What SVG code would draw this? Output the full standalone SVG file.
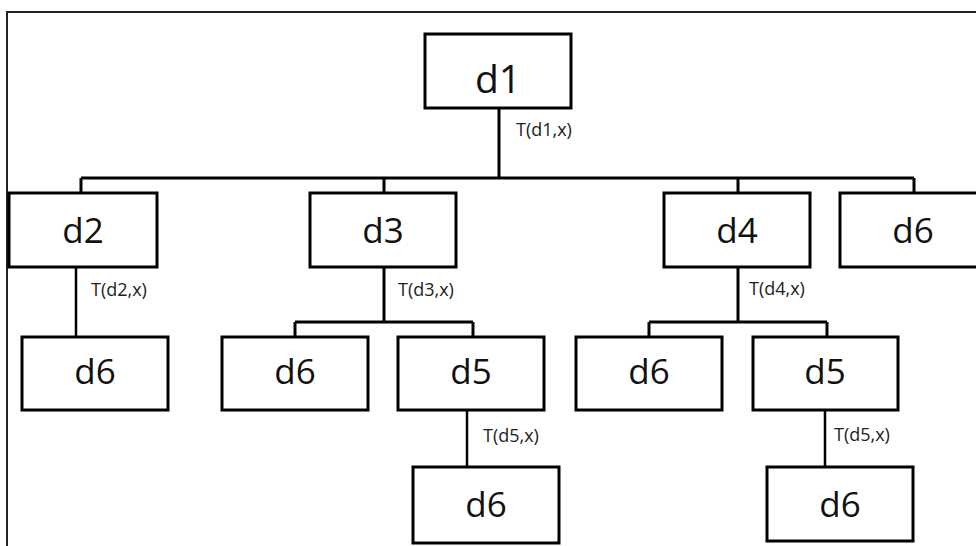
<svg xmlns="http://www.w3.org/2000/svg" width="976" height="546" viewBox="0 0 976 546">
<style>
.box{fill:#fff;stroke:#000;stroke-width:3}
.lbl{font-family:"Open Sans","Noto Sans",sans-serif;font-size:35px;fill:#111;text-anchor:middle}
.t{font-family:"Open Sans","Noto Sans",sans-serif;font-size:18px;fill:#222}
.c{fill:none;stroke:#000;stroke-width:3}
.c2{fill:none;stroke:#000;stroke-width:2.5}
</style>
<rect width="976" height="546" fill="#fff"/>
<path d="M7,546 V12 H976" fill="none" stroke="#222" stroke-width="2"/>
<g id="connectors">
<path class="c" d="M499,108 V178 M81,178 H914 M81,178 V193 M384,178 V193 M738,178 V193 M914,178 V193"/>
<path class="c2" d="M76,267 V337"/>
<path class="c" d="M384,267 V322 M295,322 H473 M295,322 V337 M473,322 V337"/>
<path class="c" d="M738,267 V322 M649,322 H827 M649,322 V337 M827,322 V337"/>
<path class="c2" d="M467,410 V467 M825,410 V467"/>
<text class="t" x="516" y="136">T(d1,x)</text>
<text class="t" x="91" y="296">T(d2,x)</text>
<text class="t" x="398" y="296">T(d3,x)</text>
<text class="t" x="749" y="295">T(d4,x)</text>
<text class="t" x="483" y="442">T(d5,x)</text>
<text class="t" x="834" y="441">T(d5,x)</text>
</g>
<g id="n_d1"><rect class="box" x="425" y="34" width="146" height="74"/><text class="lbl" x="498" y="93" style="font-size:39px">d1</text></g>
<g id="n_d2"><rect class="box" x="9" y="193" width="148" height="74"/><text class="lbl" x="83" y="243">d2</text></g>
<g id="n_d3"><rect class="box" x="310" y="193" width="146" height="74"/><text class="lbl" x="383" y="243">d3</text></g>
<g id="n_d4"><rect class="box" x="664" y="193" width="146" height="74"/><text class="lbl" x="737" y="243">d4</text></g>
<g id="n_d6_top"><rect class="box" x="840" y="193" width="146" height="74"/><text class="lbl" x="913" y="243">d6</text></g>
<g id="n_d6_a"><rect class="box" x="22" y="337" width="146" height="73"/><text class="lbl" x="95" y="384">d6</text></g>
<g id="n_d6_b"><rect class="box" x="222" y="337" width="146" height="73"/><text class="lbl" x="295" y="384">d6</text></g>
<g id="n_d5_a"><rect class="box" x="398" y="337" width="146" height="73"/><text class="lbl" x="471" y="384">d5</text></g>
<g id="n_d6_c"><rect class="box" x="576" y="337" width="146" height="73"/><text class="lbl" x="649" y="384">d6</text></g>
<g id="n_d5_b"><rect class="box" x="753" y="337" width="145" height="73"/><text class="lbl" x="825" y="384">d5</text></g>
<g id="n_d6_d"><rect class="box" x="413" y="467" width="146" height="76"/><text class="lbl" x="486" y="517">d6</text></g>
<g id="n_d6_e"><rect class="box" x="767" y="467" width="146" height="74"/><text class="lbl" x="840" y="517">d6</text></g>
</svg>
